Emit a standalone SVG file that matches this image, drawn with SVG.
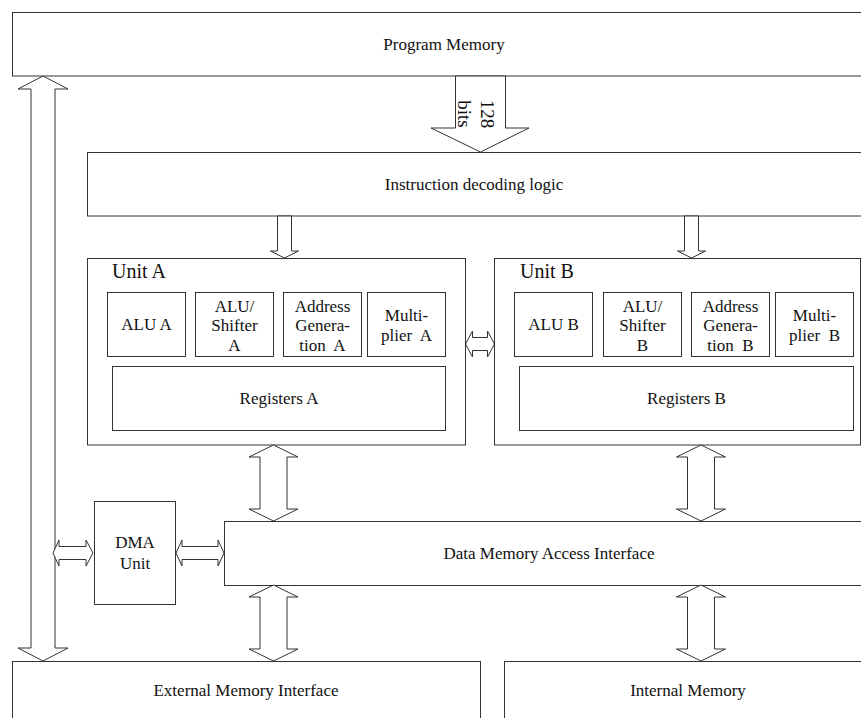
<svg xmlns="http://www.w3.org/2000/svg" width="861" height="718" viewBox="0 0 861 718">
<style>
.box{fill:#fff;stroke:#333;stroke-width:1}
.arr{fill:#fff;stroke:#333;stroke-width:1;stroke-linejoin:miter}
text{font-family:"Liberation Serif","Times New Roman",serif;fill:#111;font-size:17px;text-anchor:middle}
.unit{font-size:20px;text-anchor:start}
.bits{font-size:19px}
</style>
<rect width="861" height="718" fill="#fff"/>
<g id="program-memory">
<rect class="box" x="12.5" y="12.5" width="880" height="63.5"/>
<text x="444" y="50">Program Memory</text>
</g>
<g id="instruction-decoding">
<rect class="box" x="87.5" y="152.5" width="800" height="63.5"/>
<text x="474" y="190">Instruction decoding logic</text>
</g>
<g id="unit-a">
<rect class="box" x="87.5" y="258.5" width="378" height="186.5"/>
<text class="unit" x="112" y="278">Unit A</text>
</g>
<g id="alu-a">
<rect class="box" x="107.5" y="292.5" width="78" height="64"/>
<text x="146.5" y="330">ALU A</text>
</g>
<g id="alu-shifter-a">
<rect class="box" x="195.5" y="292.5" width="78" height="64"/>
<text x="234.5" y="312">ALU/</text>
<text x="234.5" y="331">Shifter</text>
<text x="234.5" y="351">A</text>
</g>
<g id="address-generation-a">
<rect class="box" x="283.5" y="292.5" width="78" height="64"/>
<text x="322.5" y="312">Address</text>
<text x="322.5" y="331">Genera-</text>
<text x="322.5" y="351" xml:space="preserve">tion  A</text>
</g>
<g id="multiplier-a">
<rect class="box" x="367.5" y="292.5" width="78" height="64"/>
<text x="406.5" y="321">Multi-</text>
<text x="406.5" y="341" xml:space="preserve">plier  A</text>
</g>
<g id="registers-a">
<rect class="box" x="112.5" y="366.5" width="333" height="64"/>
<text x="279" y="404">Registers A</text>
</g>
<g id="unit-b">
<rect class="box" x="494.5" y="258.5" width="366" height="186.5"/>
<text class="unit" x="520" y="278">Unit B</text>
</g>
<g id="alu-b">
<rect class="box" x="514.5" y="292.5" width="78" height="64"/>
<text x="553.5" y="330">ALU B</text>
</g>
<g id="alu-shifter-b">
<rect class="box" x="603.5" y="292.5" width="78" height="64"/>
<text x="642.5" y="312">ALU/</text>
<text x="642.5" y="331">Shifter</text>
<text x="642.5" y="351">B</text>
</g>
<g id="address-generation-b">
<rect class="box" x="691.5" y="292.5" width="78" height="64"/>
<text x="730.5" y="312">Address</text>
<text x="730.5" y="331">Genera-</text>
<text x="730.5" y="351" xml:space="preserve">tion  B</text>
</g>
<g id="multiplier-b">
<rect class="box" x="775.5" y="292.5" width="78" height="64"/>
<text x="814.5" y="321">Multi-</text>
<text x="814.5" y="341" xml:space="preserve">plier  B</text>
</g>
<g id="registers-b">
<rect class="box" x="519.5" y="366.5" width="334" height="64"/>
<text x="686.5" y="404">Registers B</text>
</g>
<g id="dma-unit">
<rect class="box" x="94.5" y="501.5" width="81" height="103"/>
<text x="135" y="548">DMA</text>
<text x="135" y="569">Unit</text>
</g>
<g id="data-memory-access">
<rect class="box" x="224.5" y="521.5" width="660" height="64"/>
<text x="549" y="559">Data Memory Access Interface</text>
</g>
<g id="external-memory">
<rect class="box" x="12.5" y="661.5" width="468" height="80"/>
<text x="246" y="696">External Memory Interface</text>
</g>
<g id="internal-memory">
<rect class="box" x="504.5" y="661.5" width="380" height="80"/>
<text x="688" y="696">Internal Memory</text>
</g>
<g id="connectors">
<path class="arr" d="M43,76 L68,89 L55,89 L55,648 L68,648 L43,661 L18,648 L31,648 L31,89 L18,89 Z"/>
<path class="arr" d="M455.5,76 L505.5,76 L505.5,128 L529,128 L480.5,152 L431,128 L455.5,128 Z"/>
<g class="bits">
<text class="bits" transform="translate(481,114) rotate(90)">128</text>
<text class="bits" transform="translate(458,114) rotate(90)">bits</text>
</g>
<path class="arr" d="M277.5,216 L291.5,216 L291.5,251 L298.5,251 L284.5,258 L270.5,251 L277.5,251 Z"/>
<path class="arr" d="M684.5,216 L698.5,216 L698.5,251 L705.5,251 L691.5,258 L677.5,251 L684.5,251 Z"/>
<path class="arr" d="M465.5,344 L472.5,331 L472.5,337.5 L487.5,337.5 L487.5,331 L494.5,344 L487.5,357 L487.5,350.5 L472.5,350.5 L472.5,357 Z"/>
<path class="arr" d="M53,553 L59,540 L59,546.5 L86,546.5 L86,540 L93,553 L86,566 L86,559.5 L59,559.5 L59,566 Z"/>
<path class="arr" d="M176,553 L182,540 L182,546.5 L218,546.5 L218,540 L224,553 L218,566 L218,559.5 L182,559.5 L182,566 Z"/>
<path class="arr" d="M273.5,445 L298,457 L287,457 L287,509 L298,509 L273.5,521 L249,509 L260,509 L260,457 L249,457 Z"/>
<path class="arr" d="M273.5,585 L298,597 L287,597 L287,649 L298,649 L273.5,661 L249,649 L260,649 L260,597 L249,597 Z"/>
<path class="arr" d="M701,445 L725.5,457 L714.5,457 L714.5,509 L725.5,509 L701,521 L676.5,509 L687.5,509 L687.5,457 L676.5,457 Z"/>
<path class="arr" d="M701,585 L725.5,597 L714.5,597 L714.5,649 L725.5,649 L701,661 L676.5,649 L687.5,649 L687.5,597 L676.5,597 Z"/>
</g>
</svg>
